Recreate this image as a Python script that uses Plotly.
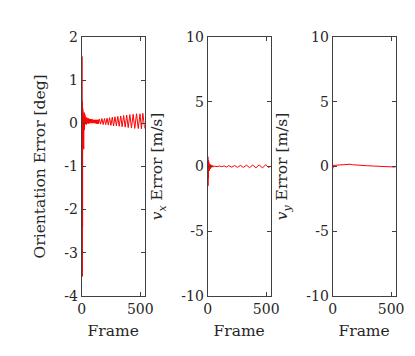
import plotly.graph_objects as go

# Orientation error [deg] per frame
ori_frame = [1, 2, 3, 4, 5, 6, 7, 8, 9, 10, 11, 12, 13, 14, 15, 16, 17, 18, 19, 20,
             21, 22, 23, 24, 25, 26, 27, 28, 29, 30,
             32, 36, 40, 44, 48, 52, 56, 60, 64, 68, 72, 76, 80, 84, 88, 92, 96, 100,
             104, 108, 112, 116, 120, 124, 128, 132, 136, 140, 144,
             150, 161, 172, 183, 194, 205, 216, 227, 238, 249, 261, 272, 284, 296,
             308, 320, 333, 345, 358, 371, 384, 397, 411, 425, 439, 453, 468, 483,
             498, 510, 522, 538]
ori_err = [0.0, 1.55, -0.4, 0.6, -3.55, 0.5, -2.4, 0.35, -1.6, 0.3, -0.9, 0.25, -1.2, 0.2, -0.45,
           0.25, -0.6, 0.2, -0.3, 0.25, -0.25, 0.2, -0.15, 0.22, -0.1, 0.18, -0.05, 0.15, -0.08, 0.17,
           -0.02, 0.14, -0.03, 0.13, 0.0, 0.12, -0.01, 0.11, 0.0, 0.1, 0.01, 0.1, 0.0, 0.09, 0.01, 0.09,
           0.0, 0.08, 0.01, 0.08, 0.0, 0.08, 0.0, 0.08, -0.01, 0.08, -0.01, 0.08, -0.01,
           0.10, -0.02, 0.11, -0.03, 0.11, -0.03, 0.12, -0.04, 0.13, -0.05, 0.14, -0.06, 0.15, -0.06,
           0.16, -0.07, 0.17, -0.08, 0.18, -0.09, 0.19, -0.10, 0.20, -0.11, 0.21, -0.12, 0.22, -0.12,
           0.22, -0.13, 0.23, -0.12]

# v_x error [m/s]
vx_frame = [1, 2, 3, 4, 5, 6, 7, 8, 9, 10, 11, 12, 14, 16, 18, 20, 22, 25, 28, 31, 34, 38,
            42, 46, 50, 60, 80, 100, 120, 140, 160, 180, 205, 230, 255, 280, 305, 332,
            358, 385, 412, 440, 468, 496, 522, 538]
vx_err = [0.0, 0.75, -1.5, 0.6, -1.2, 0.5, -0.9, 0.4, -0.7, 0.3, -0.5, 0.25, -0.35, 0.2, -0.25,
          0.15, -0.2, 0.12, -0.12, 0.1, -0.08, 0.08, -0.05, 0.05, -0.03, 0.02, -0.02, 0.03,
          -0.02, 0.04, -0.05, 0.06, -0.06, 0.07, -0.07, 0.08, -0.08, 0.1, -0.1, 0.11, -0.11,
          0.12, -0.12, 0.14, -0.1, 0.05]

# v_y error [m/s]
vy_frame = [1, 2, 3, 4, 6, 10, 30, 60, 100, 130, 150, 170, 200, 250, 300, 350, 400, 450, 500, 538]
vy_err = [0.0, -0.15, 0.12, -0.05, 0.05, 0.08, 0.1, 0.11, 0.13, 0.16, 0.17, 0.13, 0.1, 0.07,
          0.05, 0.03, 0.01, -0.01, -0.03, -0.05]

x_ticks = [0, 500]
x_labels = ["0", "500"]
ori_ticks = [-4, -3, -2, -1, 0, 1, 2]
ori_labels = ["-4", "-3", "-2", "-1", "0", "1", "2"]
vel_ticks = [-10, -5, 0, 5, 10]
vel_labels = ["-10", "-5", "0", "5", "10"]

W, H = 415, 356
FONT = "DejaVu Serif"
AX = "#404040"

fig = go.Figure()
series = [(ori_frame, ori_err), (vx_frame, vx_err), (vy_frame, vy_err)]
for i, (fx, fy) in enumerate(series):
    sfx = "" if i == 0 else str(i + 1)
    fig.add_trace(go.Scatter(x=fx, y=fy, mode="lines", line=dict(color="#ff0000", width=1),
                             xaxis="x" + sfx, yaxis="y" + sfx, showlegend=False))

panels = [(72, 137), (202, 267), (331, 396)]
ydom = [(H - 293) / H, (H - 22) / H]
titles = ["Orientation Error [deg]",
          "<i>v</i><sub><i>x</i></sub> Error [m/s]",
          "<i>v</i><sub><i>y</i></sub> Error [m/s]"]
layout = {}
for i, (x0, x1) in enumerate(panels):
    sfx = "" if i == 0 else str(i + 1)
    common = dict(showline=True, linecolor=AX, linewidth=1, mirror="ticks", ticks="inside",
                  ticklen=4, tickcolor=AX, showgrid=False, zeroline=False,
                  tickfont=dict(family=FONT, size=14, color="#262626"))
    layout["xaxis" + sfx] = dict(domain=[x0 / W, x1 / W], range=[0, 538], anchor="y" + sfx,
                                 tickvals=x_ticks, ticktext=x_labels,
                                 title=dict(text="Frame", font=dict(family=FONT, size=15.5, color="#262626"),
                                            standoff=9), **common)
    if i == 0:
        yt, yl, yr = ori_ticks, ori_labels, [-4, 2]
    else:
        yt, yl, yr = vel_ticks, vel_labels, [-10, 10]
    layout["yaxis" + sfx] = dict(domain=ydom, range=yr, anchor="x" + sfx,
                                 tickvals=yt, ticktext=yl,
                                 title=dict(text=titles[i], font=dict(family=FONT, size=15.5, color="#262626"),
                                            standoff=14), **common)

fig.update_layout(width=W, height=H, margin=dict(l=0, r=0, t=0, b=0),
                  plot_bgcolor="white", paper_bgcolor="white", **layout)

fig.write_html("out.html")
